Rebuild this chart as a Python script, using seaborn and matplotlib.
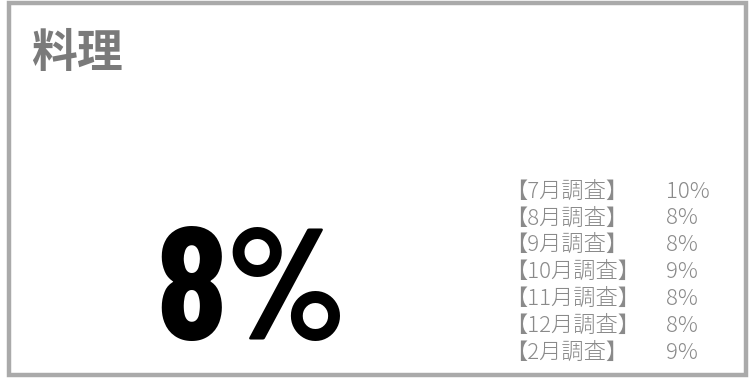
import matplotlib
matplotlib.use("Agg")
import matplotlib.pyplot as plt
import seaborn as sns
from matplotlib.patches import Rectangle

# data
title = "料理"
kpi_value = 8
months = ["7月", "8月", "9月", "10月", "11月", "12月", "2月"]
rates = [10, 8, 8, 9, 8, 8, 9]

sns.set_theme(style="white")
plt.rcParams['font.family'] = ['Noto Sans CJK JP', 'DejaVu Sans']

fig = plt.figure(figsize=(7.53, 3.82), dpi=100)
ax = fig.add_axes([0, 0, 1, 1])
ax.set_xlim(0, 753)
ax.set_ylim(382, 0)
ax.axis("off")

# card border
ax.add_patch(Rectangle((9.5, 2.5), 737, 372, fill=False, edgecolor="#aaaaaa", linewidth=3.2))

ax.text(31, 54, title, fontsize=33, fontweight="bold", color="#7a7a7a",
        ha="left", va="center")

ax.text(252, 340, f"{kpi_value}%", fontsize=114, fontweight="bold", color="black",
        family=["Barlow Condensed", "Barlow Semi Condensed", "Roboto Condensed", "DejaVu Sans"],
        ha="center", va="baseline")

y0, dy = 191.5, 26.9
for i, (m, r) in enumerate(zip(months, rates)):
    y = y0 + i * dy
    ax.text(505, y, f"【{m}調査】", fontsize=16, fontweight="light", color="#8a8a8a",
            ha="left", va="center")
    ax.text(666, y, f"{r}%", fontsize=16, fontweight="light", color="#8a8a8a",
            ha="left", va="center")

fig.savefig("out.png", dpi=100)
